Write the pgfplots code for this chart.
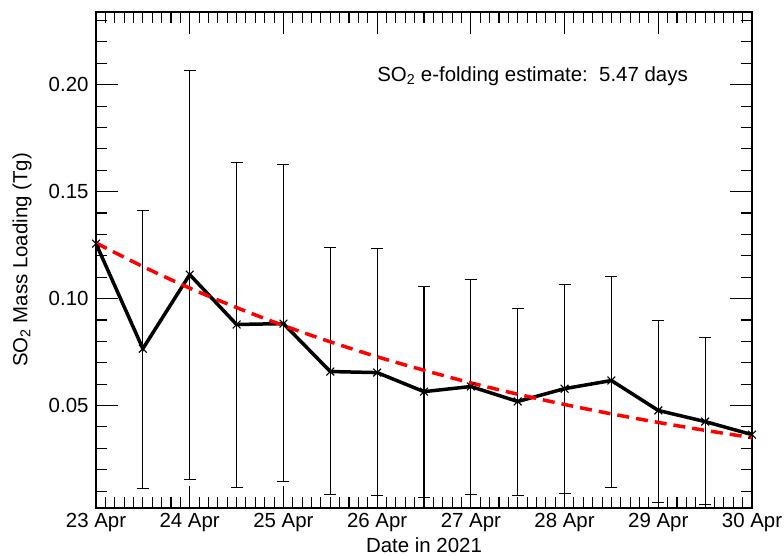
\documentclass[border=0pt]{standalone}
\usepackage{fontspec}
\setmainfont{Liberation Sans}
\usepackage{pgfplots}
\pgfplotsset{compat=1.18}

\begin{document}
\begin{tikzpicture}[x=1bp,y=1bp]
\useasboundingbox (-96,-48) rectangle (688,508);
\begin{axis}[
    at={(0,0)}, anchor=south west,
    scale only axis,
    width=656bp, height=496bp,
    xmin=0, xmax=7,
    ymin=0.0021, ymax=0.234,
    font=\fontsize{20.5}{24}\selectfont,
    /pgf/number format/assume math mode=true,
    xtick={0,1,2,3,4,5,6,7},
    xticklabels={23 Apr,24 Apr,25 Apr,26 Apr,27 Apr,28 Apr,29 Apr,30 Apr},
    minor xtick={0.1,0.2,0.3,0.4,0.5,0.6,0.7,0.8,0.9,1.1,1.2,1.3,1.4,1.5,1.6,1.7,1.8,1.9,2.1,2.2,2.3,2.4,2.5,2.6,2.7,2.8,2.9,3.1,3.2,3.3,3.4,3.5,3.6,3.7,3.8,3.9,4.1,4.2,4.3,4.4,4.5,4.6,4.7,4.8,4.9,5.1,5.2,5.3,5.4,5.5,5.6,5.7,5.8,5.9,6.1,6.2,6.3,6.4,6.5,6.6,6.7,6.8,6.9},
    ytick={0.05,0.10,0.15,0.20},
    yticklabels={0.05,0.10,0.15,0.20},
    minor ytick={0.01,0.02,0.03,0.04,0.06,0.07,0.08,0.09,0.11,0.12,0.13,0.14,0.16,0.17,0.18,0.19,0.21,0.22,0.23},
    tick align=inside,
    major tick length=22bp,
    minor tick length=11bp,
    every tick/.style={black, line width=1.1bp},
    axis line style={line width=1.2bp},
    xlabel={Date in 2021},
    ylabel={SO\textsubscript{2} Mass Loading (Tg)},
    xlabel style={at={(axis description cs:0.5,-0.0746)}, anchor=center},
    ylabel style={at={(axis description cs:-0.1128,0.5)}, anchor=center},
    xticklabel style={yshift=-2bp},
    yticklabel style={xshift=-4bp},
]
% error bars only
\addplot[draw=none, mark=none,
    error bars/.cd, y dir=both, y explicit,
    error bar style={black, line width=1.1bp, solid},
    error mark options={rotate=90, mark size=6bp, line width=1.1bp, black}]
coordinates {
    (0.5,0.0766) += (0,0.0645) -= (0,0.0654)
    (1.0,0.1112) += (0,0.0953) -= (0,0.0958)
    (1.5,0.0879) += (0,0.0757) -= (0,0.0762)
    (2.0,0.0883) += (0,0.0743) -= (0,0.0738)
    (2.5,0.0659) += (0,0.0579) -= (0,0.0575)
    (3.0,0.0654) += (0,0.0580) -= (0,0.0575)
    (3.5,0.0565) += (0,0.0491) -= (0,0.0495)
    (4.0,0.0589) += (0,0.0500) -= (0,0.0505)
    (4.5,0.0519) += (0,0.0434) -= (0,0.0440)
    (5.0,0.0579) += (0,0.0486) -= (0,0.0490)
    (5.5,0.0617) += (0,0.0486) -= (0,0.0500)
    (6.0,0.0477) += (0,0.0420) -= (0,0.0430)
    (6.5,0.0425) += (0,0.0393) -= (0,0.0388)
};
% mass loading
\addplot[black, line width=3.5bp, mark=x,
    mark options={line width=1.1bp, mark size=5.5bp}]
coordinates {
    (0.0,0.1257) (0.5,0.0766) (1.0,0.1112) (1.5,0.0879) (2.0,0.0883)
    (2.5,0.0659) (3.0,0.0654) (3.5,0.0565) (4.0,0.0589) (4.5,0.0519)
    (5.0,0.0579) (5.5,0.0617) (6.0,0.0477) (6.5,0.0425) (7.0,0.0364)
};
% e-folding fit
\addplot[red, line width=3.5bp, dash pattern=on 12bp off 7bp, smooth]
coordinates {
    (0.0,0.1260) (0.5,0.1150) (1.0,0.1049) (1.5,0.0958) (2.0,0.0874)
    (2.5,0.0798) (3.0,0.0728) (3.5,0.0665) (4.0,0.0606) (4.5,0.0553)
    (5.0,0.0505) (5.5,0.0461) (6.0,0.0421) (6.5,0.0384) (7.0,0.0350)
};
\node[anchor=west, inner sep=0pt] at (axis cs:3.0,0.2042)
    {SO\textsubscript{2} e-folding estimate:\ \ 5.47 days};
\end{axis}
\end{tikzpicture}
\end{document}
